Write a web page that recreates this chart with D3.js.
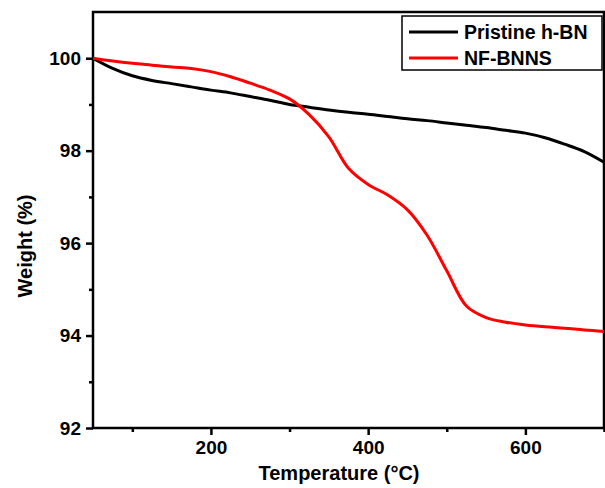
<!DOCTYPE html>
<html><head><meta charset="utf-8">
<script src="https://cdn.jsdelivr.net/npm/d3@7"></script>
<style>body{margin:0;background:#fff}svg{display:block}text{font-family:"Liberation Sans",Arial,sans-serif;font-weight:bold;fill:#000}</style>
</head><body><svg id="c" width="605" height="488"></svg>
<script>
const temperature = [50,75,100,125,150,175,200,225,250,275,300,325,350,375,400,425,450,475,500,525,550,575,600,625,650,675,700];
const pristineHBN = [100,99.78,99.62,99.52,99.45,99.38,99.31,99.25,99.17,99.09,99.00,98.94,98.88,98.83,98.79,98.74,98.69,98.65,98.60,98.55,98.50,98.44,98.38,98.28,98.14,97.98,97.75];
const nfBNNS = [100,99.94,99.89,99.85,99.81,99.78,99.71,99.60,99.46,99.31,99.12,98.78,98.30,97.62,97.27,97.04,96.72,96.17,95.40,94.64,94.39,94.29,94.23,94.19,94.16,94.12,94.09];
const seriesNames = ["Pristine h-BN","NF-BNNS"];
const seriesColors = ["#000000","#ff0000"];
const xTicks = [200,400,600];
const xMinor = [100,300,500,700];
const yTicks = [92,94,96,98,100];
const yMinor = [93,95,97,99];

const svg = d3.select("#c");
const L=93, R=604, T=12, B=428;
const x = d3.scaleLinear().domain([50,700]).range([L,R]);
const y = d3.scaleLinear().domain([92,101]).range([B,T]);

svg.append("rect").attr("x",L).attr("y",T).attr("width",R-L).attr("height",B-T)
  .attr("fill","none").attr("stroke","#000").attr("stroke-width",2.5);

const xAx = svg.append("g").attr("transform",`translate(0,${B})`)
  .call(d3.axisBottom(x).tickValues(xTicks).tickSize(7).tickPadding(6).tickFormat(d3.format("d")));
const xAxm = svg.append("g").attr("transform",`translate(0,${B})`)
  .call(d3.axisBottom(x).tickValues(xMinor).tickSize(4).tickFormat(""));
const yAx = svg.append("g").attr("transform",`translate(${L},0)`)
  .call(d3.axisLeft(y).tickValues(yTicks).tickSize(7).tickPadding(5).tickFormat(d3.format("d")));
const yAxm = svg.append("g").attr("transform",`translate(${L},0)`)
  .call(d3.axisLeft(y).tickValues(yMinor).tickSize(4).tickFormat(""));
[xAx,xAxm,yAx,yAxm].forEach(g=>{
  g.select(".domain").remove();
  g.selectAll("line").attr("stroke","#000").attr("stroke-width",2.5);
  g.selectAll("text").attr("font-size",19).style("font-family","'Liberation Sans',Arial,sans-serif").style("font-weight","bold").attr("fill","#000");
});

svg.append("clipPath").attr("id","cp").append("rect").attr("x",L).attr("y",T).attr("width",R-L).attr("height",B-T);
const line = d3.line().x((d,i)=>x(temperature[i])).y(d=>y(d)).curve(d3.curveCatmullRom.alpha(0.5));
[pristineHBN,nfBNNS].forEach((s,i)=>{
  svg.append("path").datum(s).attr("d",line).attr("fill","none")
    .attr("stroke",seriesColors[i]).attr("stroke-width",3).attr("clip-path","url(#cp)");
});

svg.append("text").attr("x",339).attr("y",480).attr("text-anchor","middle").attr("font-size",20).text("Temperature (°C)");
svg.append("text").attr("transform","translate(32,246) rotate(-90)").attr("text-anchor","middle").attr("font-size",20).text("Weight (%)");

const lg = svg.append("g");
lg.append("rect").attr("x",402).attr("y",16).attr("width",200).attr("height",54)
  .attr("fill","#fff").attr("stroke","#000").attr("stroke-width",1.5);
seriesNames.forEach((n,i)=>{
  const yy = 32 + i*26;
  lg.append("line").attr("x1",409).attr("x2",458).attr("y1",yy).attr("y2",yy)
    .attr("stroke",seriesColors[i]).attr("stroke-width",3);
  lg.append("text").attr("x",464).attr("y",yy+7).attr("font-size",19.5).text(n);
});
</script></body></html>
